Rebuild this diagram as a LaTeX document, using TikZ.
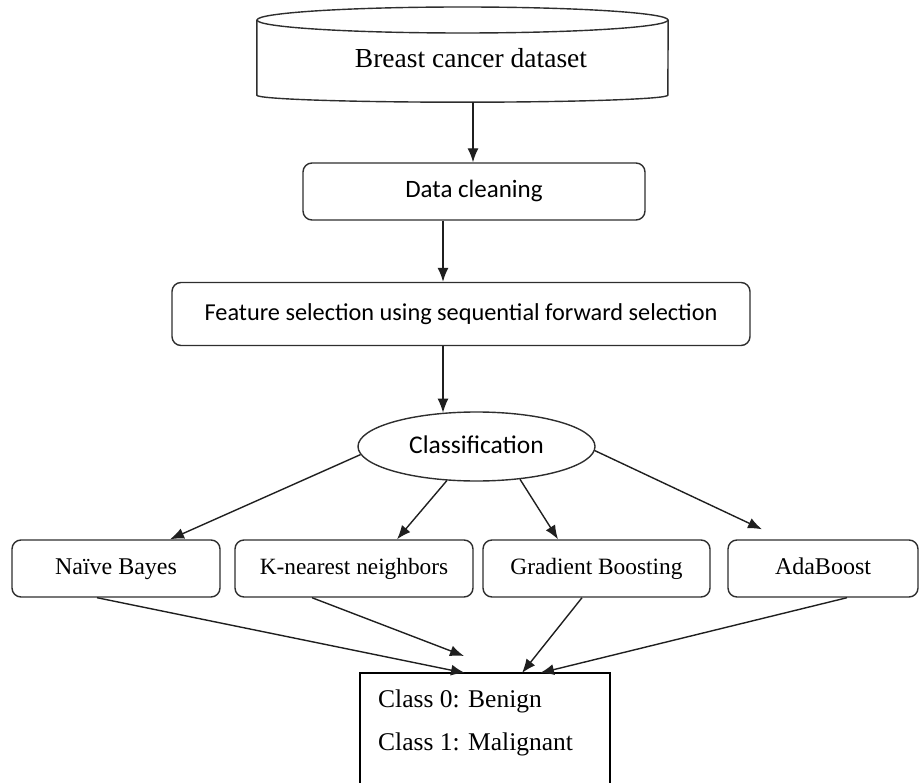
\documentclass[tikz,border=0pt]{standalone}
\usepackage{fontspec}
\setmainfont{Liberation Serif}
\newfontfamily\calib{Carlito}
\usetikzlibrary{arrows.meta,shapes.geometric}
\begin{document}
\begin{tikzpicture}[x=1pt,y=-1pt,
  ln/.style={line width=1.4pt, draw=black!82},
  box/.style={ln, rounded corners=9pt, inner sep=0pt, text height=16pt, text depth=5pt,
     font=\fontsize{24}{28}\selectfont},
  sbox/.style={ln, rounded corners=9pt, inner sep=0pt, text height=17pt, text depth=4pt,
     font=\calib\fontsize{25}{30}\selectfont},
  arr/.style={ln, draw=black!88, -{Latex[length=14pt,width=11pt]}},
  lbl/.style={inner sep=0pt, anchor=base west, font=\fontsize{25.5}{30}\selectfont}]
\useasboundingbox (0,0) rectangle (920,783);
% dataset cylinder
\node[inner sep=0pt, minimum width=411pt, minimum height=95pt] (ds) at (462.5,54.5) {};
\draw[ln] ([yshift=-13pt]ds.north west)
  -- ([yshift=7pt]ds.south west)
  arc[start angle=180, end angle=360, x radius=205.5pt, y radius=7pt]
  -- ([yshift=-13pt]ds.north east);
\draw[ln] (462.5,20) ellipse[x radius=205.5pt, y radius=13pt];
\node[inner sep=0pt, anchor=base, font=\fontsize{27.5}{32}\selectfont] (dst) at (471,68) {Breast cancer dataset};
% boxes
\node[sbox, minimum width=342pt, minimum height=57pt] (dc) at (474,191.5) {Data cleaning};
\node[sbox, minimum width=578pt, minimum height=63pt, font=\calib\fontsize{24.3}{29}\selectfont] (fs) at (461,314) {Feature selection using sequential forward selection};
\node[ln, ellipse, inner sep=0pt, minimum width=237pt, minimum height=69pt, text height=17pt, text depth=4pt,
  font=\calib\fontsize{25.5}{30}\selectfont] (cl) at (476.5,446.5) {Classification};
\node[box, minimum width=208pt, minimum height=57pt] (nb) at (116,568.5) {Naïve Bayes};
\node[box, minimum width=238pt, minimum height=57pt, font=\fontsize{23.3}{28}\selectfont] (knn) at (354,568.5) {K-nearest neighbors};
\node[box, minimum width=227pt, minimum height=57pt, font=\fontsize{23.4}{28}\selectfont] (gb) at (596.5,568.5) {Gradient Boosting};
\node[box, minimum width=190pt, minimum height=57pt] (ada) at (823,568.5) {AdaBoost};
% result box (open at the bottom edge)
\coordinate (clsbl) at (360,783);
\coordinate (clstl) at (360,673);
\coordinate (clstr) at (610,673);
\coordinate (clsbr) at (610,783);
\coordinate (cls) at (485,673);
\draw[line width=1.4pt, draw=black] (clsbl) -- (clstl) -- (clstr) -- (clsbr);
\node[lbl] (c0) at (378,707) {Class 0: Benign};
\node[lbl] (c1) at (378,750) {Class 1: Malignant};
% connectors
\draw[arr] ([xshift=10.5pt]ds.south) -- ([xshift=-1pt]dc.north);
\draw[arr] ([xshift=-31pt]dc.south) -- ([xshift=-18pt]fs.north);
\draw[arr] ([xshift=-18pt]fs.south) -- ([xshift=-33.5pt,yshift=-1.4pt]cl.north);
\draw[arr] (cl.184) -- ([xshift=54pt]nb.north);
\draw[arr] (cl.229.6) -- ([xshift=43pt]knn.north);
\draw[arr] (cl.323.6) -- ([xshift=-38.5pt]gb.north);
\draw[arr] (cl.358) -- ([xshift=-61pt,yshift=10pt]ada.north);
\draw[arr] ([xshift=-19pt]nb.south) -- ([xshift=-20pt]cls);
\draw[arr] ([xshift=-42pt]knn.south) -- ([xshift=-21pt,yshift=17pt]cls);
\draw[arr] ([xshift=-14.5pt]gb.south) -- ([xshift=37pt]cls);
\draw[arr] ([xshift=24pt]ada.south) -- ([xshift=55pt]cls);
\end{tikzpicture}
\end{document}
